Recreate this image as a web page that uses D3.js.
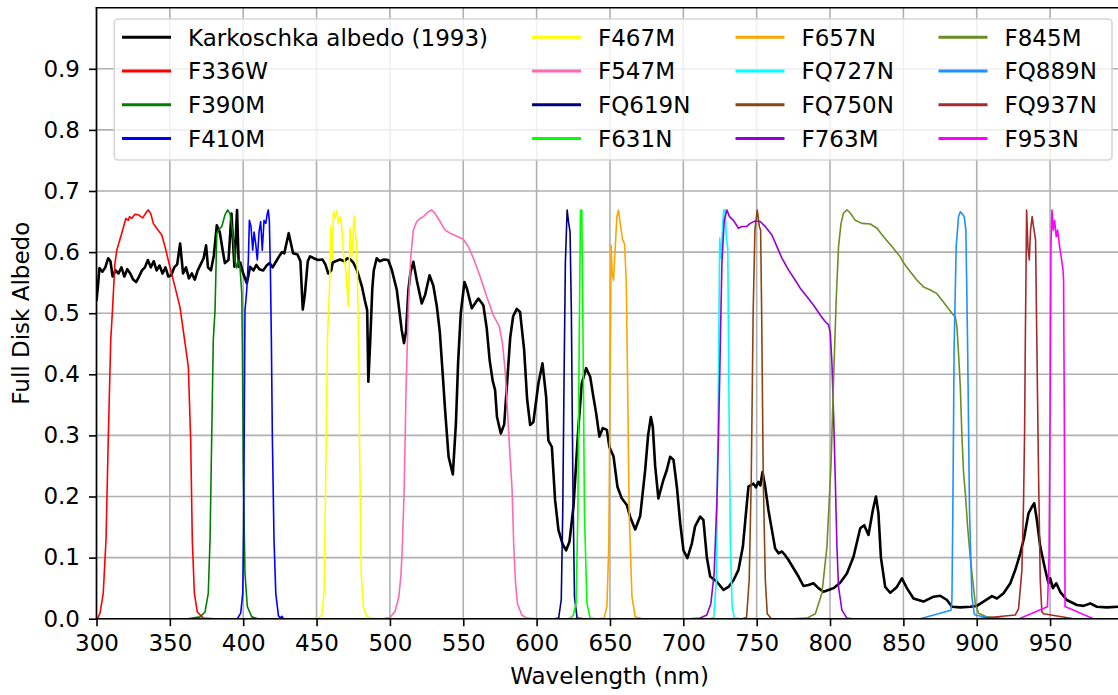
<!DOCTYPE html>
<html>
<head>
<meta charset="utf-8">
<script src="https://cdn.jsdelivr.net/npm/d3@7"></script>
<style>
  body { margin: 0; background: #fff; }
  svg { display: block; }
  text { font-family: "DejaVu Sans", sans-serif; fill: #000; }
</style>
</head>
<body>
<svg id="chart" width="1118" height="695"></svg>
<script>
// Karkoschka (1993) full-disk albedo of Saturn: [wavelength nm, albedo]
const karkoschka = [
  [300,0.52],[301,0.545],[302,0.574],[304,0.568],[306,0.575],[308,0.59],[309.5,0.585],[311,0.56],
  [313,0.57],[315,0.565],[317,0.575],[319,0.56],[321,0.572],[323,0.565],[325,0.555],[327,0.551],
  [329,0.56],[331,0.57],[333,0.575],[335,0.587],[337,0.575],[339,0.585],[341,0.57],[343,0.578],
  [345,0.565],[347,0.575],[349,0.56],[351,0.562],[353,0.575],[355,0.58],[357,0.614],[359,0.565],
  [361,0.575],[363,0.557],[365,0.565],[367,0.555],[369,0.57],[371,0.58],[373,0.59],[374.7,0.611],
  [376,0.575],[378,0.57],[380,0.595],[382,0.644],[384,0.633],[386,0.603],[387.5,0.582],[390,0.587],
  [392,0.663],[394,0.576],[395.8,0.669],[397,0.576],[398,0.583],[400,0.565],[402.5,0.549],[404.7,0.576],
  [407,0.57],[409,0.579],[411,0.572],[413.6,0.57],[416,0.578],[418,0.582],[420,0.575],[423,0.587],
  [425,0.595],[426.5,0.6],[428,0.598],[431,0.631],[434,0.598],[437,0.596],[439,0.585],[440.6,0.506],
  [442,0.53],[444,0.585],[445.6,0.593],[448,0.59],[451,0.587],[454,0.588],[456,0.58],[458,0.565],
  [460,0.57],[461,0.583],[463,0.585],[466,0.588],[469,0.585],[471,0.59],[473,0.588],[475,0.583],
  [477.6,0.57],[481,0.543],[483,0.52],[484.5,0.505],[485.3,0.388],[486.5,0.45],[488,0.54],[489,0.57],
  [491,0.59],[493,0.585],[496,0.588],[498.8,0.587],[501.3,0.571],[504.7,0.538],[508,0.473],[509.6,0.451],
  [511,0.47],[512.6,0.538],[514,0.567],[516,0.584],[518.3,0.554],[521.7,0.516],[524,0.53],[527,0.562],
  [529.6,0.545],[532,0.511],[534,0.47],[536,0.4],[537.6,0.342],[540,0.265],[542.9,0.236],[545,0.32],
  [546.5,0.42],[548.3,0.5],[550.8,0.551],[552.4,0.541],[555.8,0.508],[560.3,0.524],[563.7,0.513],[566,0.475],
  [568,0.423],[570,0.39],[571.7,0.374],[573,0.33],[575.6,0.303],[577.9,0.318],[580,0.39],[582,0.46],
  [584,0.495],[586.5,0.507],[588.7,0.502],[591.5,0.44],[593.5,0.36],[595.6,0.317],[597.8,0.322],[601.2,0.385],
  [604,0.418],[606.5,0.363],[608,0.292],[610.4,0.281],[612.6,0.194],[614.9,0.145],[617.9,0.121],[620.1,0.112],
  [622.4,0.126],[625.1,0.183],[628.5,0.314],[630.8,0.385],[633.8,0.41],[636.5,0.396],[638.7,0.363],[640.6,0.336],
  [642.8,0.298],[645.1,0.312],[647.9,0.309],[649.6,0.281],[652.4,0.266],[655.1,0.216],[658,0.197],[661.5,0.186],
  [663.7,0.167],[667.2,0.146],[670.6,0.168],[674,0.243],[676,0.3],[677.9,0.33],[679.2,0.314],[680.8,0.25],
  [683,0.197],[686.4,0.227],[688.7,0.243],[691,0.265],[693.3,0.26],[695.6,0.216],[697.9,0.156],[700.1,0.112],
  [702.8,0.099],[705.8,0.123],[708,0.151],[711.5,0.167],[713.7,0.1615],[716,0.101],[718.3,0.069],[722.9,0.0605],
  [727.4,0.047],[730.8,0.052],[734.2,0.063],[737.6,0.08],[740.6,0.118],[742.9,0.178],[744.4,0.216],[747.8,0.221],
  [749.5,0.215],[751.2,0.224],[752.5,0.218],[754,0.24],[755.8,0.216],[758,0.178],[760.4,0.145],[762.6,0.115],
  [764.9,0.107],[767.2,0.11],[769.4,0.104],[771.7,0.096],[775.1,0.0825],[778.5,0.069],[781.9,0.0535],[785.3,0.055],
  [788.7,0.058],[792.1,0.05],[795.5,0.044],[798.9,0.047],[802.4,0.05],[806.9,0.059],[811.5,0.074],[816,0.1015],
  [820.6,0.148],[823.3,0.153],[826.2,0.137],[829.2,0.178],[831.3,0.2],[833,0.1725],[834.7,0.1],[837.6,0.052],
  [841,0.0425],[843.3,0.047],[845.6,0.052],[849,0.066],[852.4,0.05],[856.9,0.033],[863.7,0.028],[870.6,0.036],
  [875.1,0.0376],[879.7,0.0306],[883.1,0.0196],[888.8,0.0186],[895.6,0.0196],[900.1,0.021],[904.6,0.028],[910.4,0.037],
  [913.8,0.033],[918.3,0.0415],[922.9,0.058],[926.3,0.08],[929.7,0.107],[932.4,0.134],[935.3,0.1725],[937.6,0.183],
  [939.2,0.189],[941,0.1615],[943.3,0.118],[946.7,0.08],[948.9,0.058],[950.1,0.066],[951.9,0.05],[954.2,0.058],
  [956.9,0.044],[961.4,0.0306],[968.3,0.0224],[972.8,0.021],[977.3,0.025],[981.9,0.0196],[988.7,0.0186],[996.4,0.0196],
  [1000,0.019]
];

// HST filter throughputs, scaled to the albedo axis: [wavelength nm, value]
const f336w = [[300,0],[301,0.002],[302.4,0.009],[304.6,0.042],[306.5,0.13],[308,0.292],[309.7,0.456],[311,0.51],
  [312.5,0.58],[313.8,0.603],[314.9,0.612],[317.2,0.631],[320,0.655],[321.7,0.652],[322.5,0.658],[324,0.655],
  [326.2,0.662],[328.5,0.661],[331.5,0.656],[334.2,0.666],[335.3,0.669],[337,0.663],[338.7,0.647],[341,0.639],
  [344.5,0.628],[346.7,0.609],[350,0.576],[353.5,0.543],[356.9,0.51],[360.3,0.452],[362.6,0.412],[364.2,0.292],
  [365.3,0.129],[366.7,0.042],[368.7,0.011],[372.8,0.001],[380,0]];
const f390m = [[362,0],[370.6,0.003],[374,0.011],[376.2,0.042],[377.4,0.13],[378.5,0.292],[379.6,0.456],[380.8,0.505],
  [382,0.631],[383,0.636],[385.4,0.642],[387.6,0.661],[389.4,0.669],[391,0.663],[392.9,0.631],[394.4,0.587],
  [395.6,0.574],[396.7,0.587],[397.8,0.576],[399,0.533],[399.4,0.456],[400.1,0.238],[401.2,0.075],[402.8,0.02],
  [405.8,0.003],[410,0]];
const f410m = [[396,0],[398.3,0.009],[399.7,0.042],[400.3,0.15],[400.8,0.35],[401.2,0.505],[401.8,0.52],[402.4,0.538],
  [403.5,0.587],[404.2,0.652],[405.3,0.642],[406.5,0.603],[407.4,0.633],[408.5,0.614],[409.6,0.587],[410.8,0.633],
  [411.9,0.65],[413,0.603],[414.2,0.652],[415.4,0.647],[416.4,0.663],[417.1,0.669],[417.8,0.652],[418.5,0.576],
  [419.2,0.456],[419.9,0.292],[421,0.129],[422.2,0.042],[424,0.005],[425.3,0.001],[426.3,0.004],[427.4,0],[440,0]];
const f467m = [[448,0],[451.2,0.001],[453.5,0.006],[455.1,0.042],[456.3,0.238],[457.4,0.456],[458.1,0.5],[458.8,0.538],
  [459.7,0.642],[460.6,0.587],[461.5,0.666],[462.6,0.655],[463.8,0.668],[464.9,0.647],[466,0.658],[467.2,0.642],
  [468.3,0.598],[469.9,0.571],[471.7,0.511],[472.8,0.639],[474,0.592],[475.6,0.659],[476.9,0.62],[477.8,0.571],
  [478.8,0.429],[479.4,0.27],[480.4,0.075],[481.9,0.02],[484.2,0.003],[490,0]];
const f547m = [[495,0],[500,0.002],[503.5,0.012],[506,0.035],[507.5,0.07],[508.5,0.12],[509.7,0.21],[511,0.374],
  [512.6,0.511],[514.2,0.592],[516,0.636],[518.3,0.65],[520.5,0.655],[522.8,0.658],[526.2,0.666],[528.5,0.669],
  [530.8,0.663],[534.2,0.65],[537.6,0.636],[541,0.631],[545.6,0.626],[550,0.621],[553.5,0.609],[556.9,0.59],
  [561.5,0.56],[566,0.527],[570.5,0.497],[574.6,0.478],[576.7,0.451],[578.5,0.407],[580.1,0.342],[581.5,0.282],
  [583.3,0.21],[584.4,0.12],[585.6,0.06],[586.9,0.025],[589.9,0.006],[593.3,0.001],[600,0]];
const fq619n = [[612,0],[615,0.001],[616.8,0.031],[617.8,0.173],[618.7,0.391],[619.6,0.582],[620.8,0.669],[621.9,0.647],
  [622.8,0.633],[623.7,0.5],[624.7,0.227],[625.8,0.036],[627.6,0.001],[632,0]];
const f631n = [[622,0],[624,0.003],[625,0.006],[626.9,0.025],[628.1,0.173],[629,0.445],[629.9,0.669],[630.8,0.669],
  [631.7,0.445],[632.6,0.173],[634.3,0.025],[636.5,0.001],[640,0]];
const f657n = [[642,0],[646,0.001],[647.9,0.02],[649.2,0.118],[650.1,0.391],[650.8,0.611],[651.5,0.565],[652.4,0.554],
  [653.4,0.598],[654.7,0.658],[655.8,0.669],[657,0.647],[658.6,0.62],[659.9,0.614],[661.1,0.554],[662,0.391],
  [663.1,0.173],[665,0.036],[667.2,0.003],[672,0]];
const fq727n = [[718,0],[720.7,0.002],[722.5,0.063],[723.7,0.336],[724.8,0.623],[725.7,0.59],[726.6,0.633],[727.5,0.669],
  [728.5,0.669],[729.4,0.62],[730.3,0.606],[731.2,0.336],[732.1,0.118],[733.3,0.02],[734.8,0.001],[740,0]];
const fq750n = [[740,0],[743.1,0.002],[744.9,0.063],[746.3,0.227],[747.6,0.5],[748.8,0.636],[750.4,0.669],[751.8,0.642],
  [752.7,0.636],[753.4,0.5],[754.5,0.227],[755.9,0.063],[757.2,0.008],[760,0]];
const f763m = [[705,0],[711.5,0.001],[716,0.006],[718.8,0.025],[721,0.074],[722.9,0.194],[724,0.3],[725.2,0.445],
  [726.3,0.582],[727.9,0.652],[729.7,0.669],[731.5,0.658],[734.2,0.652],[737.6,0.639],[739.9,0.642],[743.3,0.642],
  [745.6,0.647],[749,0.651],[752.4,0.65],[755.8,0.642],[760.4,0.628],[763.8,0.609],[767.2,0.59],[771.7,0.571],
  [776.3,0.554],[779.7,0.541],[784.3,0.527],[788.8,0.513],[793.3,0.497],[796.8,0.486],[799,0.481],[800.2,0.467],
  [801.3,0.418],[802.4,0.336],[803.6,0.227],[804.7,0.118],[805.8,0.052],[808.1,0.014],[811.5,0.001],[815,0]];
const f845m = [[775,0],[784.3,0.001],[790,0.008],[794.5,0.042],[797.9,0.118],[800.7,0.254],[802.4,0.391],[804.3,0.527],
  [805.8,0.609],[807.5,0.647],[809.2,0.664],[811.5,0.669],[813.8,0.664],[817.2,0.652],[821.8,0.647],[827.5,0.646],
  [832,0.639],[836.5,0.625],[842.2,0.609],[847.9,0.592],[850.2,0.582],[854.7,0.568],[859.3,0.554],[863.8,0.543],
  [868.4,0.538],[872.9,0.532],[877.4,0.518],[883.1,0.5],[885.4,0.494],[886.5,0.478],[887.6,0.434],[888.8,0.38],
  [889.9,0.3],[891,0.24],[892.4,0.2],[893.8,0.15],[895.6,0.1],[897.5,0.058],[899,0.025],[901.3,0.009],[907,0.003],[920,0]];
const fq889n = [[861.5,0],[882.4,0.014],[883.1,0.03],[883.7,0.173],[884.6,0.445],[886,0.609],[887.6,0.658],[888.8,0.666],
  [889.9,0.663],[891.5,0.658],[892.6,0.636],[893.8,0.445],[895.1,0.173],[896.7,0.036],[898.3,0.008],[899,0.006],[911.5,0]];
const fq937n = [[900,0],[926.2,0.006],[928.5,0.016],[930.8,0.08],[931.9,0.19],[932.6,0.3],[933.1,0.445],[934,0.669],
  [934.9,0.609],[935.8,0.587],[936.7,0.636],[937.8,0.658],[938.7,0.642],[940.1,0.62],[941,0.445],[942.2,0.227],
  [943.3,0.063],[944.4,0.011],[945.5,0.008],[966,0]];
const f953n = [[928.9,0],[948.2,0.0196],[949.3,0.1],[950,0.336],[950.6,0.609],[951.3,0.669],[952.2,0.636],[953.1,0.652],
  [954.2,0.625],[955.1,0.636],[956.5,0.609],[957.6,0.592],[958.8,0.571],[959.2,0.554],[959.7,0.336],[960.2,0.02],[979.5,0]];

const seriesNames = ["Karkoschka albedo (1993)","F336W","F390M","F410M","F467M","F547M","FQ619N","F631N",
  "F657N","FQ727N","FQ750N","F763M","F845M","FQ889N","FQ937N","F953N"];
const seriesData = [karkoschka,f336w,f390m,f410m,f467m,f547m,fq619n,f631n,
  f657n,fq727n,fq750n,f763m,f845m,fq889n,fq937n,f953n];

const xTicks = [300,350,400,450,500,550,600,650,700,750,800,850,900,950];
const yTicks = [0,0.1,0.2,0.3,0.4,0.5,0.6,0.7,0.8,0.9];
const xTitle = "Wavelength (nm)";
const yTitle = "Full Disk Albedo";

// line colours per series
const colors = ["#000000","#ff0000","#008000","#0000ff","#ffff00","#ff69b4","#000080","#00ff00",
  "#ffa500","#00ffff","#8b4513","#9400d3","#6b8e23","#1e90ff","#a52a2a","#ff00ff"];

const FS = 23;
const svg = d3.select("#chart");
const plot = { left: 96.5, right: 1122.7, top: 7.7, bottom: 618.7 };

const x = d3.scaleLinear().domain([300, 999.5]).range([plot.left, plot.right]);
const y = d3.scaleLinear().domain([0, 1]).range([plot.bottom, plot.top]);

svg.append("defs").append("clipPath").attr("id", "clip")
  .append("rect").attr("x", plot.left).attr("y", plot.top)
  .attr("width", plot.right - plot.left).attr("height", plot.bottom - plot.top);

// grid
const grid = svg.append("g").attr("stroke", "#b0b0b0").attr("stroke-width", 1.6);
grid.selectAll("line.gx").data(xTicks).join("line")
  .attr("x1", d => x(d)).attr("x2", d => x(d)).attr("y1", plot.top).attr("y2", plot.bottom);
grid.selectAll("line.gy").data(yTicks).join("line")
  .attr("x1", plot.left).attr("x2", plot.right).attr("y1", d => y(d)).attr("y2", d => y(d));

// curves
const line = d3.line().x(d => x(d[0])).y(d => y(d[1]));
const curves = svg.append("g").attr("clip-path", "url(#clip)").attr("fill", "none")
  .attr("stroke-linejoin", "round").attr("stroke-linecap", "butt");
seriesData.forEach((data, i) => {
  curves.append("path").attr("d", line(data))
    .attr("stroke", colors[i]).attr("stroke-width", i === 0 ? 2.6 : 1.6);
});

// axes
const xAxis = d3.axisBottom(x).tickValues(xTicks).tickFormat(d3.format("d")).tickSize(7.5).tickPadding(8.5);
const gx = svg.append("g").attr("transform", `translate(0,${plot.bottom})`).call(xAxis);
const yAxis = d3.axisLeft(y).tickValues(yTicks).tickFormat(d3.format(".1f")).tickSize(7.5).tickPadding(9);
const gy = svg.append("g").attr("transform", `translate(${plot.left},0)`).call(yAxis);
[gx, gy].forEach(g => {
  g.select(".domain").remove();
  g.selectAll(".tick line").attr("stroke", "#000").attr("stroke-width", 1.6);
  g.selectAll(".tick text").attr("font-size", FS).attr("font-family", "DejaVu Sans").attr("fill", "#000");
});

// spines
const spines = svg.append("g").attr("stroke", "#000").attr("stroke-width", 1.6).attr("stroke-linecap", "square");
spines.append("line").attr("x1", plot.left).attr("x2", plot.left).attr("y1", plot.top).attr("y2", plot.bottom);
spines.append("line").attr("x1", plot.left).attr("x2", plot.right).attr("y1", plot.bottom).attr("y2", plot.bottom);
spines.append("line").attr("x1", plot.left).attr("x2", plot.right).attr("y1", plot.top).attr("y2", plot.top);
spines.append("line").attr("x1", plot.right).attr("x2", plot.right).attr("y1", plot.top).attr("y2", plot.bottom);

// axis titles
svg.append("text").attr("x", (plot.left + plot.right) / 2).attr("y", 684)
  .attr("text-anchor", "middle").attr("font-size", FS).text(xTitle);
svg.append("text").attr("transform", `translate(29,${(plot.top + plot.bottom) / 2}) rotate(-90)`)
  .attr("text-anchor", "middle").attr("font-size", FS).text(yTitle);

// legend, four columns filled top-to-bottom
const legend = svg.append("g");
legend.append("rect").attr("x", 114.3).attr("y", 19).attr("width", 997.7).attr("height", 141)
  .attr("rx", 4).attr("ry", 4).attr("fill", "#fff").attr("fill-opacity", 0.8)
  .attr("stroke", "#d6d6d6").attr("stroke-width", 1.6);
const colX = [122, 532, 735.5, 938.5];
const rowY0 = 37.3, rowStep = 33.7;
seriesNames.forEach((name, i) => {
  const cx = colX[Math.floor(i / 4)], cy = rowY0 + (i % 4) * rowStep;
  legend.append("line").attr("x1", cx).attr("x2", cx + 49).attr("y1", cy).attr("y2", cy)
    .attr("stroke", colors[i]).attr("stroke-width", 3);
  legend.append("text").attr("x", cx + 66).attr("y", cy + 8.3).attr("font-size", FS).text(name);
});
</script>
</body>
</html>
